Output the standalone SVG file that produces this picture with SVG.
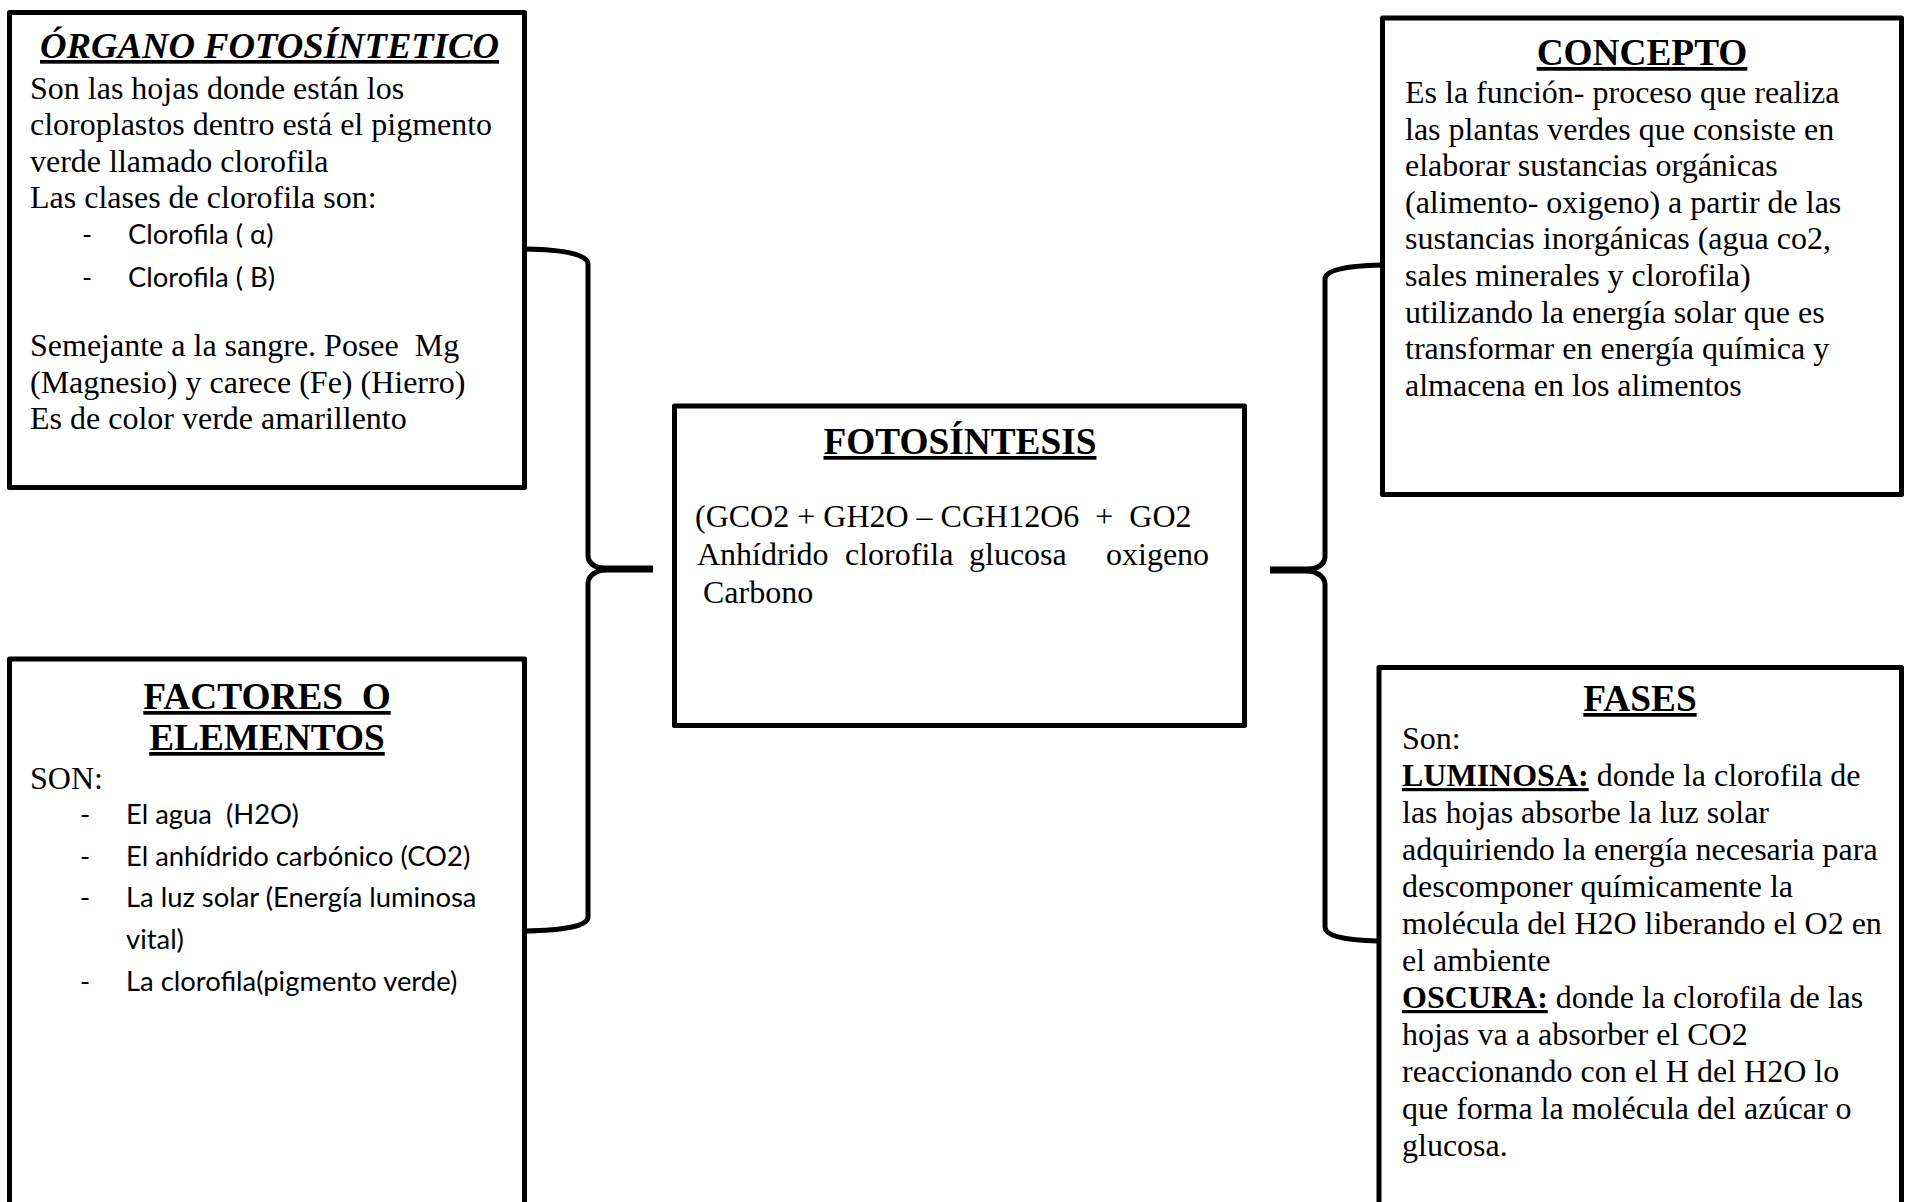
<svg xmlns="http://www.w3.org/2000/svg" width="1906" height="1202" viewBox="0 0 1906 1202">
  <style>
    .box { fill: #fff; stroke: #000; stroke-width: 5; stroke-linejoin: round; }
    .br { fill: none; stroke: #000; stroke-width: 5; stroke-linejoin: round; }
    .tip { fill: none; stroke: #000; stroke-width: 7; }
    .t { font-family: "Liberation Serif", "Times New Roman", serif; font-size: 32px; fill: #000; }
    .h { font-family: "Liberation Serif", "Times New Roman", serif; font-size: 37.3px; font-weight: bold; fill: #000;
         text-decoration: underline; text-decoration-thickness: 3px; }
    .hi { font-style: italic; font-size: 36.7px; }
    .s { font-family: Lato, "Liberation Sans", sans-serif; font-size: 27.4px; fill: #000; }
    .bu { font-weight: bold; text-decoration: underline; text-decoration-thickness: 2.5px; }
  </style>

  <rect width="1906" height="1202" fill="#fff"/>

  <!-- connectors: the two curly braces -->
  <g id="connectors">
    <path class="br" d="M524,249 Q588,250 588,264 L588,556 Q589,569 612,569"/>
    <path class="br" d="M612,569 Q589,570 588,583 L588,917 Q588,930 524,931"/>
    <path class="tip" d="M600,569 L653,569"/>
    <path class="br" d="M1382,265 Q1325,266 1325,279 L1325,557 Q1324,570 1300,570"/>
    <path class="br" d="M1300,570 Q1324,571 1325,584 L1325,927 Q1325,940 1378,941"/>
    <path class="tip" d="M1270,570 L1312,570"/>
  </g>

  <!-- ÓRGANO FOTOSÍNTETICO -->
  <g id="organo">
    <rect class="box" x="9.5" y="12.5" width="515" height="475"/>
    <text class="h hi" x="40" y="58">ÓRGANO FOTOSÍNTETICO</text>
    <text class="t" x="30">
      <tspan x="30" y="98.5">Son las hojas donde están los</tspan>
      <tspan x="30" y="135">cloroplastos dentro está el pigmento</tspan>
      <tspan x="30" y="171.5">verde llamado clorofila</tspan>
      <tspan x="30" y="208">Las clases de clorofila son:</tspan>
    </text>
    <text class="s">
      <tspan x="82" y="244">-</tspan><tspan x="128" y="244">Clorofila ( α)</tspan>
      <tspan x="82" y="287">-</tspan><tspan x="128" y="287">Clorofila ( B)</tspan>
    </text>
    <text class="t" xml:space="preserve"><tspan x="30" y="356">Semejante a la sangre. Posee  Mg</tspan><tspan x="30" y="392.5">(Magnesio) y carece (Fe) (Hierro)</tspan><tspan x="30" y="429">Es de color verde amarillento</tspan></text>
  </g>

  <!-- FACTORES O ELEMENTOS -->
  <g id="factores">
    <rect class="box" x="9.5" y="659" width="515" height="600"/>
    <text class="h" x="267" y="709" text-anchor="middle" xml:space="preserve">FACTORES  O</text>
    <text class="h" x="267" y="750" text-anchor="middle">ELEMENTOS</text>
    <text class="t" x="30" y="789">SON:</text>
    <text class="s" xml:space="preserve"><tspan x="80" y="824">-</tspan><tspan x="126" y="824">El agua  (H2O)</tspan><tspan x="80" y="866">-</tspan><tspan x="126" y="866">El anhídrido carbónico (CO2)</tspan><tspan x="80" y="907">-</tspan><tspan x="126" y="907">La luz solar (Energía luminosa</tspan><tspan x="126" y="949">vital)</tspan><tspan x="80" y="991">-</tspan><tspan x="126" y="991">La clorofila(pigmento verde)</tspan></text>
  </g>

  <!-- FOTOSÍNTESIS -->
  <g id="fotosintesis">
    <rect class="box" x="674.5" y="406" width="570" height="319.5"/>
    <text class="h" x="960" y="454" text-anchor="middle">FOTOSÍNTESIS</text>
    <text class="t" x="695" y="527" xml:space="preserve">(GCO2 + GH2O – CGH12O6  +  GO2</text>
    <text class="t" y="565"><tspan x="697">Anhídrido</tspan><tspan x="845">clorofila</tspan><tspan x="969">glucosa</tspan><tspan x="1106">oxigeno</tspan></text>
    <text class="t" x="703" y="603">Carbono</text>
  </g>

  <!-- CONCEPTO -->
  <g id="concepto">
    <rect class="box" x="1382.5" y="18" width="519" height="476.5"/>
    <text class="h" x="1642" y="65" text-anchor="middle">CONCEPTO</text>
    <text class="t">
      <tspan x="1405" y="103">Es la función- proceso que realiza</tspan>
      <tspan x="1405" y="139.6">las plantas verdes que consiste en</tspan>
      <tspan x="1405" y="176.2">elaborar sustancias orgánicas</tspan>
      <tspan x="1405" y="212.8">(alimento- oxigeno) a partir de las</tspan>
      <tspan x="1405" y="249.4">sustancias inorgánicas (agua co2,</tspan>
      <tspan x="1405" y="286">sales minerales y clorofila)</tspan>
      <tspan x="1405" y="322.6">utilizando la energía solar que es</tspan>
      <tspan x="1405" y="359.2">transformar en energía química y</tspan>
      <tspan x="1405" y="395.8">almacena en los alimentos</tspan>
    </text>
  </g>

  <!-- FASES -->
  <g id="fases">
    <rect class="box" x="1379" y="667.5" width="522.5" height="600"/>
    <text class="h" x="1640" y="711" text-anchor="middle">FASES</text>
    <text class="t">
      <tspan x="1402" y="749">Son:</tspan>
      <tspan x="1402" y="786"><tspan class="bu">LUMINOSA:</tspan> donde la clorofila de</tspan>
      <tspan x="1402" y="823">las hojas absorbe la luz solar</tspan>
      <tspan x="1402" y="860">adquiriendo la energía necesaria para</tspan>
      <tspan x="1402" y="897">descomponer químicamente la</tspan>
      <tspan x="1402" y="934">molécula del H2O liberando el O2 en</tspan>
      <tspan x="1402" y="971">el ambiente</tspan>
      <tspan x="1402" y="1008"><tspan class="bu">OSCURA:</tspan> donde la clorofila de las</tspan>
      <tspan x="1402" y="1045">hojas va a absorber el CO2</tspan>
      <tspan x="1402" y="1082">reaccionando con el H del H2O lo</tspan>
      <tspan x="1402" y="1119">que forma la molécula del azúcar o</tspan>
      <tspan x="1402" y="1156">glucosa.</tspan>
    </text>
  </g>
</svg>
